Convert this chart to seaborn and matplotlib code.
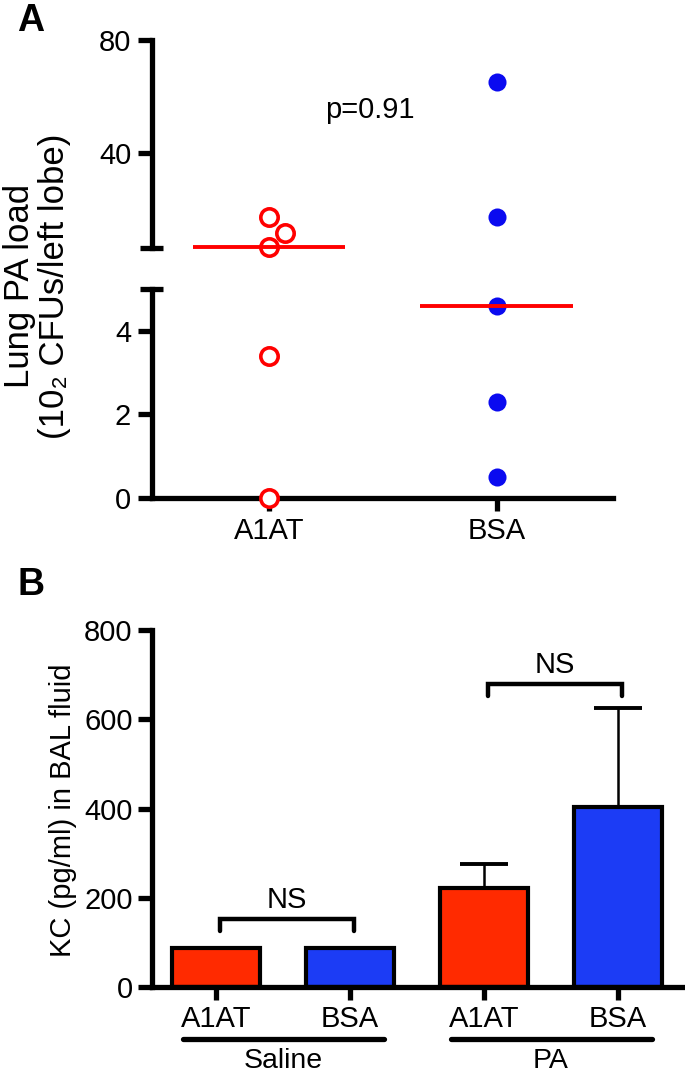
import numpy as np
import pandas as pd
import matplotlib
matplotlib.use("Agg")
import matplotlib.pyplot as plt
import matplotlib.transforms as mtransforms
import seaborn as sns

# panel A: lung PA load (10^2 CFUs / left lobe)
groups_a = ['A1AT', 'BSA']
a1at_load = [17.3, 11.7, 6.7, 3.4, 0.0]
bsa_load = [65.2, 17.4, 4.6, 2.3, 0.5]
p_text = 'p=0.91'

# panel B: KC in BAL fluid
treat_b = ['A1AT', 'BSA', 'A1AT', 'BSA']
cond_b = ['Saline', 'Saline', 'PA', 'PA']
kc_mean = [87, 87, 222, 403]
kc_sem = [0, 0, 54, 222]
ns_pairs = [(0, 1), (2, 3)]
ns_height = [152, 679]

sns.set_theme(style='ticks')
plt.rcParams['font.family'] = ['Liberation Sans', 'DejaVu Sans']
for k in ['text.color', 'axes.edgecolor', 'axes.labelcolor', 'xtick.color', 'ytick.color']:
    plt.rcParams[k] = 'black'

RED = '#ff0000'
BLUE = '#0a0af0'
BAR_RED = '#ff2a00'
BAR_BLUE = '#1c3cf5'
LW = 3.8
FS = 21
BREAK = 5.0
HI_MIN = 6.4

df_a = pd.DataFrame({
    'group': ['A1AT'] * len(a1at_load) + ['BSA'] * len(bsa_load),
    'load': a1at_load + bsa_load,
})

fig = plt.figure(figsize=(6.85, 10.76), dpi=100)
W, H = 685, 1076
ax_hi = fig.add_axes([152 / W, 1 - 248 / H, 461 / W, 208 / H])
ax_lo = fig.add_axes([152 / W, 1 - 498 / H, 461 / W, 209 / H])
ax_b = fig.add_axes([152 / W, 1 - 987 / H, 531 / W, 357 / H])

for ax, part in [(ax_hi, df_a[df_a['load'] > BREAK]), (ax_lo, df_a[df_a['load'] <= BREAK])]:
    sns.swarmplot(data=part[part['group'] == 'A1AT'], x='group', y='load', order=groups_a,
                  color='white', edgecolor=RED, linewidth=2.6, size=12.5,
                  clip_on=False, zorder=3, ax=ax)
    sns.swarmplot(data=part[part['group'] == 'BSA'], x='group', y='load', order=groups_a,
                  color=BLUE, linewidth=0, size=13, clip_on=False, zorder=3, ax=ax)

# medians
for i, g in enumerate(groups_a):
    med = np.median(df_a.loc[df_a['group'] == g, 'load'])
    ax = ax_hi if med > BREAK else ax_lo
    ax.plot([i - 0.335, i + 0.335], [med, med], color=RED, lw=2.8,
            solid_capstyle='butt', clip_on=False, zorder=4)

for ax in (ax_hi, ax_lo):
    ax.set_xlim(-0.513, 1.51)
    ax.set_xlabel('')
    ax.set_ylabel('')
    for s in ['top', 'right']:
        ax.spines[s].set_visible(False)
    ax.spines['left'].set_linewidth(LW)
    ax.spines['bottom'].set_linewidth(LW)
    ax.tick_params(axis='y', length=10, width=LW, labelsize=FS, pad=5)
    ax.tick_params(axis='x', length=9, width=LW, labelsize=FS, pad=5, direction='out')
    ax.set_facecolor('none')

ax_hi.set_ylim(HI_MIN, 80)
ax_hi.set_yticks([40, 80])
ax_hi.spines['bottom'].set_visible(False)
ax_hi.tick_params(axis='x', bottom=False, labelbottom=False)
ax_lo.set_ylim(0, BREAK)
ax_lo.set_yticks([0, 2, 4])
ax_lo.spines['left'].set_bounds(0, BREAK)

# break caps
for ax, yy in [(ax_hi, 0.0), (ax_lo, 1.0)]:
    ax.plot([-0.025, 0.024], [yy, yy], transform=ax.transAxes, color='black',
            lw=LW, clip_on=False, solid_capstyle='butt')

ax_hi.text(0.443, 55.2, p_text, ha='center', va='center', fontsize=FS)

fig.text(37 / W, 1 - 286 / H, 'Lung PA load\n(10\u2082 CFUs/left lobe)', rotation=90,
         ha='center', va='center', fontsize=25, multialignment='center', linespacing=1.05)
fig.text(31 / W, 1 - 21 / H, 'A', fontsize=27, fontweight='bold', ha='center', va='center')

# panel B
df_b = pd.DataFrame({
    'bar': [c + ' ' + t for c, t in zip(cond_b, treat_b)],
    'treat': treat_b,
    'cond': cond_b,
    'kc': kc_mean,
    'sem': kc_sem,
})
colors_b = [BAR_RED if t == 'A1AT' else BAR_BLUE for t in treat_b]
sns.barplot(data=df_b, x='bar', y='kc', hue='bar', palette=colors_b, legend=False,
            width=0.66, edgecolor='black', linewidth=3.0, errorbar=None, saturation=1,
            ax=ax_b)
pos = np.arange(len(df_b))
has_err = df_b['sem'] > 0
ax_b.errorbar(pos[has_err], df_b['kc'][has_err],
              yerr=[np.zeros(has_err.sum()), df_b['sem'][has_err]],
              fmt='none', ecolor='black', elinewidth=1.8, capsize=17, capthick=2.8, zorder=0.5)

ax_b.set_xlim(-0.478, 3.485)
ax_b.set_ylim(0, 800)
ax_b.set_yticks([0, 200, 400, 600, 800])
ax_b.set_xticks(pos)
ax_b.set_xticklabels(treat_b)
ax_b.set_xlabel('')
ax_b.set_ylabel('')
for s in ['top', 'right']:
    ax_b.spines[s].set_visible(False)
ax_b.spines['left'].set_linewidth(LW)
ax_b.spines['bottom'].set_linewidth(LW)
ax_b.tick_params(axis='y', length=10, width=LW, labelsize=FS, pad=4)
ax_b.tick_params(axis='x', length=9, width=LW, labelsize=FS, pad=4)

# NS brackets
for (i, j), h in zip(ns_pairs, ns_height):
    ax_b.plot([i + 0.03, i + 0.03, j + 0.03, j + 0.03], [h - 26, h, h, h - 26],
              color='black', lw=3.2, solid_capstyle='round', solid_joinstyle='miter', clip_on=False)
    ax_b.text((i + j) / 2 + 0.03, h + 25, 'NS', ha='center', va='baseline', fontsize=FS)

# condition underlines
trans = mtransforms.blended_transform_factory(ax_b.transData, ax_b.transAxes)
for cond in ['Saline', 'PA']:
    idx = pos[df_b['cond'] == cond]
    mid = idx.mean()
    ax_b.plot([mid - 0.75, mid + 0.75], [-0.147, -0.147], transform=trans, color='black',
              lw=LW, solid_capstyle='round', clip_on=False)
    ax_b.text(mid, -0.245, cond, transform=trans, ha='center', va='bottom', fontsize=20.5)

fig.text(63 / W, 1 - 810 / H, 'KC (pg/ml) in BAL fluid', rotation=90, ha='center',
         va='center', fontsize=21)
fig.text(31 / W, 1 - 585 / H, 'B', fontsize=27, fontweight='bold', ha='center', va='center')

fig.savefig('out.png', dpi=100)
